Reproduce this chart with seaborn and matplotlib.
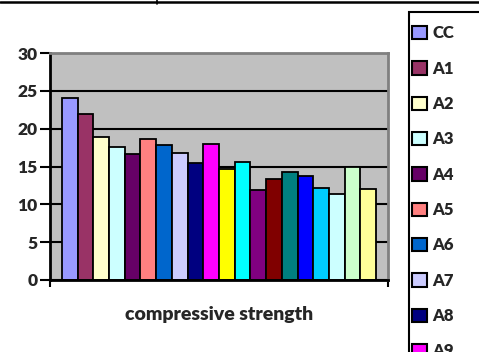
import matplotlib
matplotlib.use("Agg")
import matplotlib.pyplot as plt
from matplotlib.lines import Line2D
from matplotlib.patches import Patch, Rectangle
import seaborn as sns

# Data
labels = ['CC', 'A1', 'A2', 'A3', 'A4', 'A5', 'A6', 'A7', 'A8', 'A9',
          'A10', 'A11', 'A12', 'A13', 'A14', 'A15', 'A16', 'A17', 'A18', 'A19']
values = [24.0, 21.9, 18.9, 17.6, 16.7, 18.6, 17.8, 16.8, 15.5, 18.0,
          14.7, 15.6, 11.9, 13.3, 14.3, 13.8, 12.2, 11.3, 15.0, 12.0]
colors = ['#9999FF', '#993366', '#FFFFCC', '#CCFFFF', '#660066', '#FF8080',
          '#0066CC', '#CCCCFF', '#000080', '#FF00FF', '#FFFF00', '#00FFFF',
          '#800080', '#800000', '#008080', '#0000FF', '#00CCFF', '#CCFFFF',
          '#CCFFCC', '#FFFF99']
yticks = [0, 5, 10, 15, 20, 25, 30]
xlabel = 'compressive strength'

sns.set_style('white')
plt.rcParams['font.family'] = ['Lato', 'DejaVu Sans']
plt.rcParams['font.weight'] = 'heavy'

fig = plt.figure(figsize=(4.79, 3.52), dpi=100)
fig.patch.set_facecolor('white')
W, H = 479, 352
ax = fig.add_axes([50 / W, 1 - 280 / H, 338 / W, 227 / H])
ax.set_facecolor('#C0C0C0')

sns.barplot(x=labels, y=values, hue=labels, palette=colors, width=1.0,
            dodge=False, edgecolor='black', linewidth=1.3, legend=False,
            saturation=1, ax=ax)

ax.set_ylim(0, 30)
ax.set_xlim(-1.26, 20.26)
ax.set_yticks(yticks)
ax.set_yticklabels([str(t) for t in yticks], fontsize=12.5, fontweight='heavy')
ax.set_xticks([-1.26, 20.26])
ax.set_xticklabels(['', ''])
ax.tick_params(axis='y', direction='out', length=7, width=1.5, color='black', pad=2, left=True)
ax.tick_params(axis='x', direction='out', length=5, width=1.5, color='black', bottom=True)

ax.yaxis.grid(True, color='black', linewidth=1.5)
ax.set_axisbelow(True)

for side in ['left', 'bottom']:
    ax.spines[side].set_color('black')
    ax.spines[side].set_linewidth(2)
for side in ['top', 'right']:
    ax.spines[side].set_color('#808080')
    ax.spines[side].set_linewidth(2)

ax.set_xlabel(xlabel, fontsize=14, fontweight='heavy', labelpad=10)
ax.set_ylabel('')

# Legend frame drawn separately; it runs off the right and bottom edges
fig.add_artist(Rectangle((409 / W, -0.1), 0.3, 1.1 - 12 / H, transform=fig.transFigure,
                         facecolor='white', edgecolor='black', linewidth=1.5))

handles = [Patch(facecolor=c, edgecolor='black', linewidth=1.5) for c in colors]
leg = fig.legend(handles, labels, loc='upper left',
                 bbox_to_anchor=(409 / W, 1 - 22 / H),
                 frameon=False,
                 prop={'weight': 'heavy', 'size': 12},
                 handlelength=0.85, handleheight=0.85, handletextpad=0.35,
                 labelspacing=1.16, borderpad=0.2, borderaxespad=0)

# Border line at top of the picture
fig.add_artist(Line2D([0, 1], [1 - 1.5 / H, 1 - 1.5 / H], color='black', linewidth=1.8))
fig.add_artist(Line2D([157 / W, 157 / W], [1, 1 - 4 / H], color='black', linewidth=1.2))

fig.savefig('out.png', dpi=100)
